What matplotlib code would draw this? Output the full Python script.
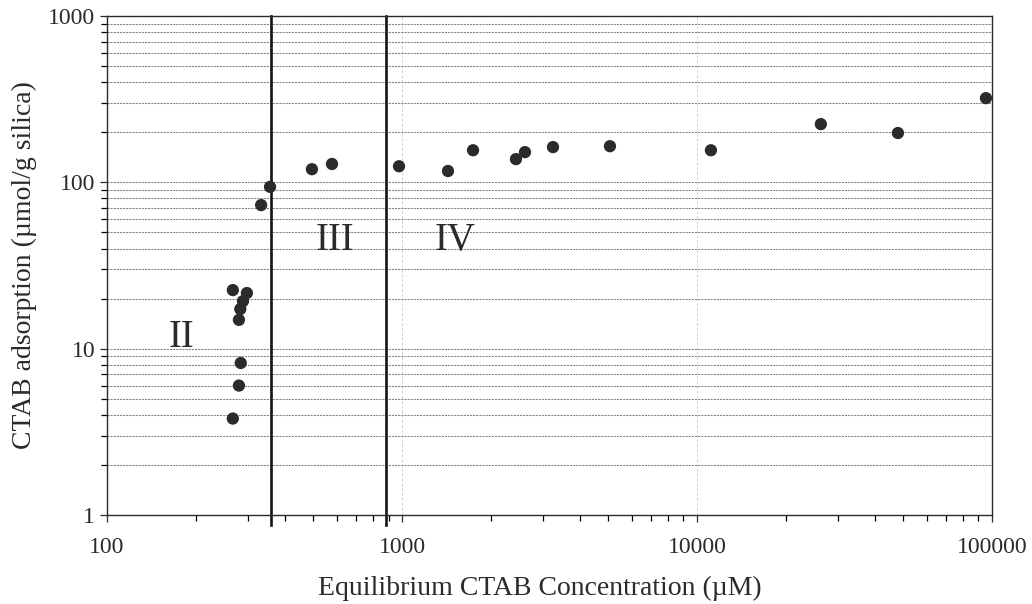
import matplotlib.pyplot as plt
from matplotlib.ticker import LogLocator, NullFormatter

# data
conc = [267, 298, 289, 283, 280, 284, 280, 267,
        333, 357, 495, 579, 977, 1432, 1741, 2434, 2612, 3250, 5070,
        11150, 26300, 48000, 95400]
ads = [22.5, 21.6, 19.3, 17.3, 14.9, 8.2, 6.0, 3.8,
       73, 94, 120, 129, 125, 117, 156, 138, 152, 163, 165,
       156, 224, 198, 321]

boundaries = [360, 880]
region_names = ["II", "III", "IV"]
region_x = [179, 594, 1515]
region_y = [11.7, 44.8, 44.8]

xticks = [100, 1000, 10000, 100000]
yticks = [1, 10, 100, 1000]

plt.rcParams["font.family"] = ["Liberation Serif", "DejaVu Serif"]

fig = plt.figure(figsize=(10.32, 6.04), dpi=100)
ax = fig.add_axes([0.1037, 0.1474, 0.8575, 0.826])

ax.set_xscale("log")
ax.set_yscale("log")
ax.set_xlim(100, 100000)
ax.set_ylim(1, 1000)

# gridlines
ax.yaxis.set_minor_locator(LogLocator(base=10, subs=range(2, 10)))
ax.xaxis.set_minor_locator(LogLocator(base=10, subs=range(2, 10)))
ax.yaxis.set_minor_formatter(NullFormatter())
ax.xaxis.set_minor_formatter(NullFormatter())
ax.grid(True, which="both", axis="y", color="0.5", linestyle=(0, (2, 1)), linewidth=0.75)
ax.grid(True, which="major", axis="x", color="0.82", linestyle=(0, (3, 2)), linewidth=0.7)
ax.set_axisbelow(True)

for b in boundaries:
    ax.axvline(b, ymin=-0.02, ymax=1, color="#151515", linewidth=1.9, clip_on=False)

ax.scatter(conc, ads, s=78, color="#2b2b2b", zorder=3, edgecolors="none")

for name, tx, ty in zip(region_names, region_x, region_y):
    ax.text(tx, ty, name, fontsize=28, ha="center", va="center", color="#2b2b2b")

ax.set_xticks(xticks)
ax.set_xticklabels([str(v) for v in xticks])
ax.set_yticks(yticks)
ax.set_yticklabels([str(v) for v in yticks])

ax.tick_params(which="major", direction="out", length=5, width=0.9, labelsize=17, colors="#2b2b2b")
ax.tick_params(which="minor", direction="out", length=4, width=0.9)
ax.tick_params(axis="x", which="major", pad=11)

for sp in ax.spines.values():
    sp.set_linewidth(1.0)
    sp.set_color("#2b2b2b")

ax.set_xlabel("Equilibrium CTAB Concentration (\u00b5M)", fontsize=20, color="#2b2b2b")
ax.set_ylabel("CTAB adsorption (\u00b5mol/g silica)", fontsize=20, labelpad=8, color="#2b2b2b")
ax.xaxis.set_label_coords(0.489, -0.122)

fig.savefig("out.png", dpi=100)
